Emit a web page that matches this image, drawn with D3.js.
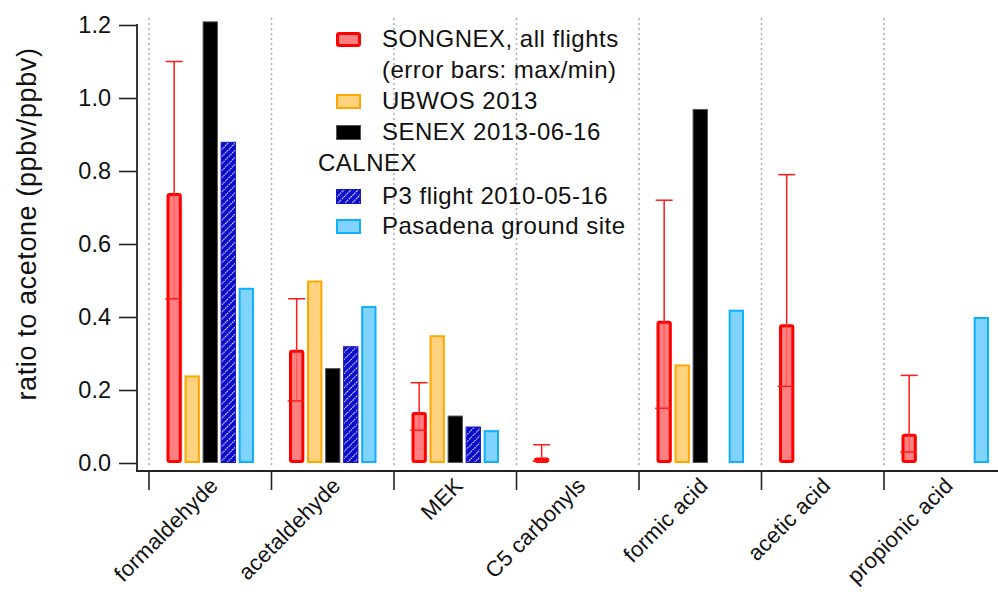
<!DOCTYPE html>
<html><head><meta charset="utf-8">
<script src="https://cdn.jsdelivr.net/npm/d3@7"></script>
<style>body{margin:0;background:#fff}svg{display:block;font-family:"Liberation Sans",Arial,sans-serif}</style>
</head><body><svg id="c" width="998" height="600"></svg>
<script>
const categories = ["formaldehyde","acetaldehyde","MEK","C5 carbonyls","formic acid","acetic acid","propionic acid"];
const songnex    = [0.74, 0.31, 0.14, 0.015, 0.39, 0.38, 0.08];
const songnexMax = [1.10, 0.45, 0.22, 0.05, 0.72, 0.79, 0.24];
const songnexMin = [0.45, 0.17, 0.09, 0.005, 0.15, 0.21, 0.03];
const ubwos      = [0.24, 0.50, 0.35, null, 0.27, null, null];
const senex      = [1.21, 0.26, 0.13, null, 0.97, null, null];
const p3         = [0.88, 0.32, 0.10, null, null, null, null];
const pasadena   = [0.48, 0.43, 0.09, null, 0.42, null, 0.40];
const yTicks = [0, 0.2, 0.4, 0.6, 0.8, 1.0, 1.2];
const seriesNames = ["SONGNEX","UBWOS","SENEX","P3","Pasadena"];

const svg = d3.select("#c");
const defs = svg.append("defs");
const pat = defs.append("pattern").attr("id","hatch").attr("patternUnits","userSpaceOnUse")
  .attr("width",5).attr("height",5).attr("patternTransform","rotate(45)");
pat.append("rect").attr("width",5).attr("height",5).attr("fill","#0a0acc");
pat.append("line").attr("x1",2.5).attr("y1",0).attr("x2",2.5).attr("y2",5)
  .attr("stroke","#fff").attr("stroke-width",1.1).attr("stroke-dasharray","1.6,0.9");

const y = d3.scaleLinear().domain([0,1.2]).range([463,25]);
const x = d3.scaleBand().domain(categories).range([149,1006.5]).padding(0);
const xs = d3.scaleBand().domain(seriesNames).range([17.5,105]).paddingInner(0.15);

const styles = {
  SONGNEX:{fill:"#ff8080",stroke:"#ff0000",sw:3},
  UBWOS:{fill:"#ffd27f",stroke:"#ffa600",sw:2},
  SENEX:{fill:"#000000",stroke:"#555555",sw:1},
  P3:{fill:"url(#hatch)",stroke:"#1818c8",sw:1},
  Pasadena:{fill:"#80d2ff",stroke:"#10b0ff",sw:2}
};
const values = {UBWOS:ubwos,SENEX:senex,P3:p3,Pasadena:pasadena};

// dotted separators
svg.append("g").selectAll("line").data(categories).join("line")
  .attr("x1",d=>x(d)).attr("x2",d=>x(d)).attr("y1",18).attr("y2",466)
  .attr("stroke","#aaaaaa").attr("stroke-width",1.5).attr("stroke-dasharray","2,3");

// bars
const gBars = svg.append("g");
["UBWOS","SENEX","P3","Pasadena"].forEach(s=>{
  const st = styles[s];
  const data = categories.map((c,i)=>({c,v:values[s][i]})).filter(d=>d.v!=null);
  gBars.selectAll(null).data(data).join("rect")
    .attr("x",d=>x(d.c)+xs(s)+st.sw/2).attr("width",xs.bandwidth()-st.sw)
    .attr("y",d=>y(d.v)+st.sw/2).attr("height",d=>y(0)-y(d.v)-st.sw)
    .attr("fill",st.fill).attr("stroke",st.stroke).attr("stroke-width",st.sw);
});
// SONGNEX bars with error bars
const sd = categories.map((c,i)=>({c,v:songnex[i],mx:songnexMax[i],mn:songnexMin[i]}));
const sg = svg.append("g");
const st0 = styles.SONGNEX;
const cx = d=>x(d.c)+xs("SONGNEX")+xs.bandwidth()/2;
sg.selectAll(null).data(sd).join("rect")
  .attr("x",d=>x(d.c)+xs("SONGNEX")+1.5).attr("width",xs.bandwidth()-3)
  .attr("y",d=>y(d.v)+1.5).attr("height",d=>Math.max(0.5,y(0)-y(d.v)-3))
  .attr("rx",1.5)
  .attr("fill",st0.fill).attr("stroke",st0.stroke).attr("stroke-width",st0.sw);
sg.selectAll(null).data(sd).join("line")
  .attr("x1",cx).attr("x2",cx).attr("y1",d=>y(d.v)).attr("y2",d=>y(d.mx))
  .attr("stroke","#ff1a1a").attr("stroke-width",1.5);
sg.selectAll(null).data(sd).join("line")
  .attr("x1",d=>cx(d)-8.5).attr("x2",d=>cx(d)+8.5).attr("y1",d=>y(d.mx)).attr("y2",d=>y(d.mx))
  .attr("stroke","#ff1a1a").attr("stroke-width",1.5);
sg.selectAll(null).data(sd).join("line")
  .attr("x1",cx).attr("x2",cx).attr("y1",d=>y(d.v)).attr("y2",d=>y(d.mn))
  .attr("stroke","#ff4040").attr("stroke-width",1.2).attr("opacity",0.6);
sg.selectAll(null).data(sd).join("line")
  .attr("x1",d=>cx(d)-9).attr("x2",d=>cx(d)+7).attr("y1",d=>y(d.mn)).attr("y2",d=>y(d.mn))
  .attr("stroke","#ff1a1a").attr("stroke-width",1.5);

// y axis
const yAxis = d3.axisLeft(y).tickValues(yTicks).tickFormat(d3.format(".1f")).tickSize(18).tickPadding(8);
const ga = svg.append("g").attr("transform","translate(137,0)").call(yAxis);
ga.select(".domain").remove();
ga.selectAll(".tick line").attr("stroke","#222").attr("stroke-width",1.6);
ga.selectAll(".tick text").attr("font-size",23.5).attr("fill","#111").attr("font-family","Liberation Sans, Arial, sans-serif");
svg.append("line").attr("x1",137).attr("x2",137).attr("y1",y(1.2)-1).attr("y2",472)
  .attr("stroke","#222").attr("stroke-width",1.8);

// x axis
svg.append("line").attr("x1",136).attr("x2",998).attr("y1",471).attr("y2",471)
  .attr("stroke","#222").attr("stroke-width",1.8);
svg.append("g").selectAll("line").data(categories).join("line")
  .attr("x1",d=>x(d)).attr("x2",d=>x(d)).attr("y1",471).attr("y2",490)
  .attr("stroke","#222").attr("stroke-width",1.6);
svg.append("g").selectAll("text").data(categories).join("text")
  .attr("transform",d=>`translate(${x(d)+x.bandwidth()/2+9},${487}) rotate(-45)`)
  .attr("text-anchor","end").attr("font-size",22).attr("letter-spacing",0.2).attr("fill","#111").text(d=>d);

// y title
svg.append("text").attr("transform","translate(36,224) rotate(-90)")
  .attr("text-anchor","middle").attr("font-size",27).attr("letter-spacing",0.6).attr("fill","#111")
  .text("ratio to acetone (ppbv/ppbv)");

// legend
const legendRows = [
  {key:"SONGNEX",label:"SONGNEX, all flights",base:47},
  {key:null,label:"(error bars: max/min)",base:78},
  {key:"UBWOS",label:"UBWOS 2013",base:109},
  {key:"SENEX",label:"SENEX 2013-06-16",base:140},
  {key:"title",label:"CALNEX",base:171},
  {key:"P3",label:"P3 flight 2010-05-16",base:204},
  {key:"Pasadena",label:"Pasadena ground site",base:234}
];
const lg = svg.append("g");
legendRows.forEach(r=>{
  if(r.key && styles[r.key]){
    const st = styles[r.key];
    const sw = r.key==="SONGNEX"?3:st.sw;
    lg.append("rect").attr("x",336+sw/2).attr("y",r.base-15+sw/2).attr("width",25-sw).attr("height",15-sw)
      .attr("fill",st.fill).attr("stroke",st.stroke).attr("stroke-width",sw).attr("rx",r.key==="SONGNEX"?1.5:0);
  }
  lg.append("text").attr("x",r.key==="title"?318:382).attr("y",r.base)
    .attr("font-size",24).attr("letter-spacing",0.5).attr("fill","#111").text(r.label);
});
</script></body></html>
